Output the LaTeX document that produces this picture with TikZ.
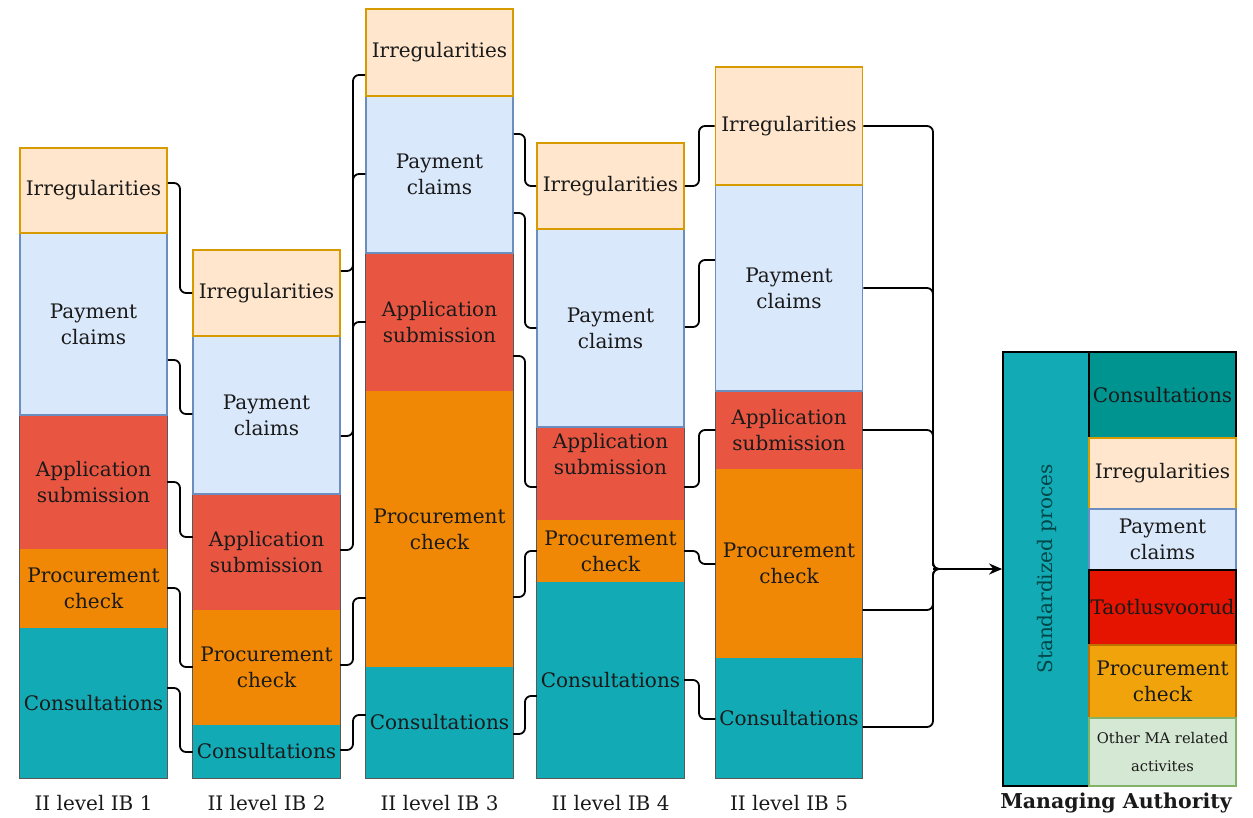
\documentclass[tikz,border=0pt]{standalone}
\usepackage{fontspec}
\setmainfont{DejaVu Serif}
\usetikzlibrary{arrows.meta}
\definecolor{irrF}{HTML}{FFE6CC}\definecolor{irrD}{HTML}{D79B00}
\definecolor{payF}{HTML}{DAE8FC}\definecolor{payD}{HTML}{6C8EBF}
\definecolor{appF}{HTML}{E85642}
\definecolor{proF}{HTML}{F08705}
\definecolor{conF}{HTML}{12AAB5}
\definecolor{mconF}{HTML}{009490}
\definecolor{taoF}{HTML}{E51400}
\definecolor{mproF}{HTML}{F0A30A}\definecolor{mproD}{HTML}{BD7000}
\definecolor{othF}{HTML}{D5E8D4}\definecolor{othD}{HTML}{82B366}
\definecolor{txt}{HTML}{1A1A1A}
\newcommand{\lblfont}{\fontsize{20}{26}\selectfont}
\newcommand{\mybox}[6]{\pgfmathsetmacro{\myh}{#5-#4}\node[#1,minimum height=\myh pt] (#2) at (#3,{(#4+#5)/2}) {#6};}
\newcommand{\lnk}[5]{\draw[conn] (#1.east |- 0,#2) -| (#5,#4) -- (#3.west |- 0,#4);}
\begin{document}
\begin{tikzpicture}[x=1pt,y=-1pt,
  box/.style={minimum width=147pt, inner sep=0pt, align=center, font=\lblfont, text=txt},
  irr/.style={box, fill=irrF, draw=irrD, line width=1.8pt},
  pay/.style={box, fill=payF, draw=payD, line width=1.5pt},
  app/.style={box, fill=appF},
  pro/.style={box, fill=proF},
  con/.style={box, fill=conF},
  outl/.style={draw=black!65, line width=1.2pt},
  conn/.style={draw=black, line width=1.8pt, rounded corners=6pt},
  arr/.style={draw=black, line width=2.2pt, -{Stealth[length=13pt,width=11pt]}},
  captxt/.style={font=\lblfont, text=txt},
  mab/.style={minimum width=147pt, inner sep=0pt, align=center, font=\lblfont, text=txt},
]
\useasboundingbox (0,0) rectangle (1253,818);
% column 1
\mybox{app}{c1app}{93.5}{415}{549}{Application\\submission}
\mybox{pro}{c1pro}{93.5}{549}{628}{Procurement\\check}
\mybox{con}{c1con}{93.5}{628}{778}{Consultations}
\draw[outl] (c1app.north west) rectangle (c1con.south east);
\mybox{pay}{c1pay}{93.5}{233}{415}{Payment\\claims}
\mybox{irr}{c1irr}{93.5}{148}{233}{Irregularities}
% column 2
\mybox{app}{c2app}{266.5}{494}{610}{Application\\submission}
\mybox{pro}{c2pro}{266.5}{610}{725}{Procurement\\check}
\mybox{con}{c2con}{266.5}{725}{778}{Consultations}
\draw[outl] (c2app.north west) rectangle (c2con.south east);
\mybox{pay}{c2pay}{266.5}{336}{494}{Payment\\claims}
\mybox{irr}{c2irr}{266.5}{250}{336}{Irregularities}
% column 3
\mybox{app}{c3app}{439.5}{253}{391}{Application\\submission}
\mybox{pro}{c3pro}{439.5}{391}{667}{Procurement\\check}
\mybox{con}{c3con}{439.5}{667}{778}{Consultations}
\draw[outl] (c3app.north west) rectangle (c3con.south east);
\mybox{pay}{c3pay}{439.5}{96}{253}{Payment\\claims}
\mybox{irr}{c3irr}{439.5}{9}{96}{Irregularities}
% column 4
\mybox{app}{c4app}{610.5}{427}{520}{}
\node[box] (c4appt) at (610.5,454) {Application\\submission};
\mybox{pro}{c4pro}{610.5}{520}{582}{Procurement\\check}
\mybox{con}{c4con}{610.5}{582}{778}{Consultations}
\draw[outl] (c4app.north west) rectangle (c4con.south east);
\mybox{pay}{c4pay}{610.5}{229}{427}{Payment\\claims}
\mybox{irr}{c4irr}{610.5}{143}{229}{Irregularities}
% column 5
\mybox{app}{c5app}{789}{391}{469}{Application\\submission}
\mybox{pro}{c5pro}{789}{469}{658}{Procurement\\check}
\mybox{con}{c5con}{789}{658}{778}{Consultations}
\draw[outl] (c5app.north west) rectangle (c5con.south east);
\mybox{pay}{c5pay}{789}{185}{391}{Payment\\claims}
\mybox{irr}{c5irr}{789}{67}{185}{Irregularities}
% captions
\node[captxt] (l1) at (93.5,803) {II level IB 1};
\node[captxt] (l2) at (266.5,803) {II level IB 2};
\node[captxt] (l3) at (439.5,803) {II level IB 3};
\node[captxt] (l4) at (610.5,803) {II level IB 4};
\node[captxt] (l5) at (789,803) {II level IB 5};
% managing authority
\mybox{box,minimum width=86pt,fill=conF,draw=black,line width=1.8pt}{std}{1046}{352}{786}{}
\node[font=\lblfont, text=teal!55!black, rotate=90] (stdt) at (1047,569) {Standardized proces};
\mybox{mab,fill=mconF,draw=black,line width=1.8pt}{macon}{1162.5}{352}{438}{Consultations}
\mybox{mab,fill=irrF,draw=irrD,line width=1.5pt}{mairr}{1162.5}{438}{509}{Irregularities}
\mybox{mab,fill=payF,draw=payD,line width=1.5pt}{mapay}{1162.5}{509}{570}{Payment\\claims}
\mybox{mab,fill=taoF,draw=black,line width=1.8pt}{matao}{1162.5}{570}{645}{Taotlusvoorud}
\mybox{mab,fill=mproF,draw=mproD,line width=1.5pt}{mapro}{1162.5}{645}{718}{Procurement\\check}
\mybox{mab,fill=othF,draw=othD,line width=1.5pt,font=\fontsize{14.7}{28}\selectfont}{maoth}{1162.5}{718}{786}{Other MA related\\activites}
\node[captxt, font=\fontsize{20.5}{26}\selectfont\bfseries] (mal) at (1116,803) {Managing Authority};
% connectors 1->2
\lnk{c1irr}{183}{c2irr}{293}{180}
\lnk{c1pay}{360}{c2pay}{414}{180}
\lnk{c1app}{482}{c2app}{537}{180}
\lnk{c1pro}{588}{c2pro}{667}{180}
\lnk{c1con}{688}{c2con}{752}{180}
% 2->3
\lnk{c2irr}{271}{c3irr}{75}{353}
\lnk{c2pay}{436}{c3pay}{174}{353}
\lnk{c2app}{550}{c3app}{322}{353}
\lnk{c2pro}{665}{c3pro}{598}{353}
\lnk{c2con}{750}{c3con}{715}{353}
% 3->4
\lnk{c3irr}{134}{c4irr}{186}{525}
\lnk{c3pay}{213}{c4pay}{328}{525}
\lnk{c3app}{356}{c4app}{487}{525}
\lnk{c3pro}{597}{c4pro}{551}{525}
\lnk{c3con}{734}{c4con}{696}{525}
% 4->5
\lnk{c4irr}{186}{c5irr}{126}{699}
\lnk{c4pay}{327}{c5pay}{260}{699}
\lnk{c4app}{487}{c5app}{430}{699}
\lnk{c4pro}{551}{c5pro}{564}{699}
\lnk{c4con}{680}{c5con}{719}{699}
% 5 -> MA
\coordinate (jn) at (933,569);
\coordinate (jr) at (950,569);
\draw[conn] (c5irr.east |- 0,126) -| (jn) -- (jr);
\draw[conn] (c5pay.east |- 0,288) -| (jn) -- (jr);
\draw[conn] (c5app.east |- 0,430) -| (jn) -- (jr);
\draw[conn] (c5pro.east |- 0,610) -| (jn) -- (jr);
\draw[conn] (c5con.east |- 0,727) -| (jn) -- (jr);
\draw[arr] (jn) -- (std.west);
\end{tikzpicture}
\end{document}
